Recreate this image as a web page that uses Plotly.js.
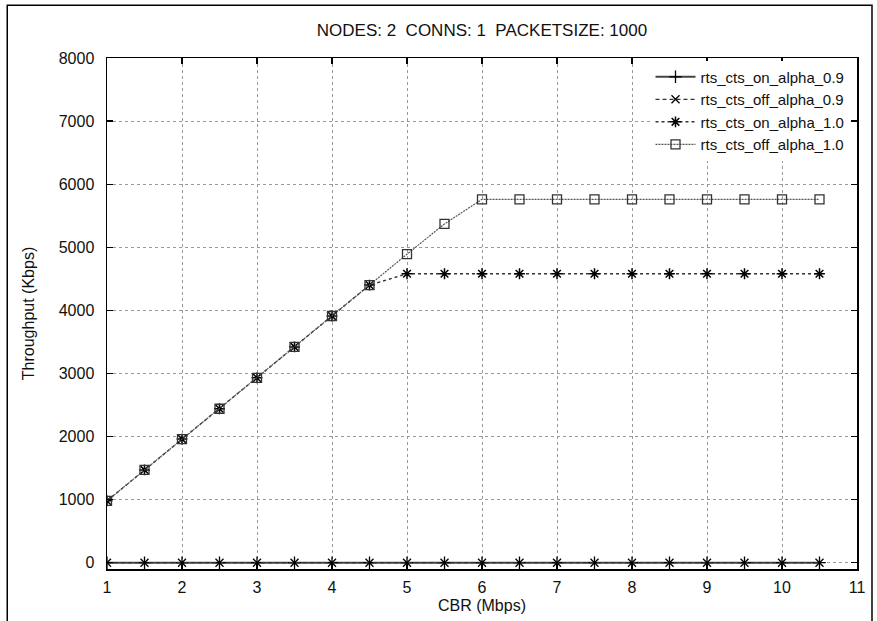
<!DOCTYPE html>
<html>
<head>
<meta charset="utf-8">
<script src="https://cdn.plot.ly/plotly-3.0.1.min.js"></script>
<style>html,body{margin:0;padding:0;background:#fff;}#chart{width:877px;height:621px;}</style>
</head>
<body>
<div id="chart"></div>
<script>
const cbr = [1, 1.5, 2, 2.5, 3, 3.5, 4, 4.5, 5, 5.5, 6, 6.5, 7, 7.5, 8, 8.5, 9, 9.5, 10, 10.5];
const rtsOnAlpha09  = [0,0,0,0,0,0,0,0,0,0,0,0,0,0,0,0,0,0,0,0];
const rtsOffAlpha09 = [0,0,0,0,0,0,0,0,0,0,0,0,0,0,0,0,0,0,0,0];
const rtsOnAlpha10  = [980,1470,1960,2440,2930,3420,3910,4400,4580,4580,4580,4580,4580,4580,4580,4580,4580,4580,4580,4580];
const rtsOffAlpha10 = [980,1470,1960,2440,2930,3420,3910,4400,4890,5370,5760,5760,5760,5760,5760,5760,5760,5760,5760,5760];
const seriesNames = ['rts_cts_on_alpha_0.9','rts_cts_off_alpha_0.9','rts_cts_on_alpha_1.0','rts_cts_off_alpha_1.0'];
const xTicks = [1,2,3,4,5,6,7,8,9,10,11];
const yTicks = [0,1000,2000,3000,4000,5000,6000,7000,8000];

const font = {family: 'Liberation Sans, Arial, sans-serif', size: 16, color: '#111'};
const traces = [
  {x: cbr, y: rtsOnAlpha09, name: seriesNames[0], mode: 'lines+markers',
   line: {color: '#444', width: 2, dash: 'solid'},
   marker: {symbol: 'cross-thin-open', size: 9, color: '#000', line: {width: 1.3, color: '#000'}}},
  {x: cbr, y: rtsOffAlpha09, name: seriesNames[1], mode: 'lines+markers',
   line: {color: '#333', width: 1.2, dash: '4px,3px'},
   marker: {symbol: 'x-thin-open', size: 8, color: '#000', line: {width: 1.3, color: '#000'}}},
  {x: cbr, y: rtsOnAlpha10, name: seriesNames[2], mode: 'lines+markers',
   line: {color: '#333', width: 1.4, dash: '3px,3px'},
   marker: {symbol: 'asterisk-open', size: 9, color: '#000', line: {width: 1.5, color: '#000'}}},
  {x: cbr, y: rtsOffAlpha10, name: seriesNames[3], mode: 'lines+markers',
   line: {color: '#555', width: 1.2, dash: '2px,1px'},
   marker: {symbol: 'square-open', size: 9, color: '#333', line: {width: 1.3, color: '#333'}}}
];

const layout = {
  width: 877, height: 621,
  margin: {l: 107, r: 20, t: 58, b: 52},
  paper_bgcolor: '#fff', plot_bgcolor: '#fff',
  font: font,
  showlegend: true,
  title: {text: 'NODES: 2  CONNS: 1  PACKETSIZE: 1000', x: 0.5, xref: 'paper', xanchor: 'center', y: 0.952, yanchor: 'middle',
          font: {family: font.family, size: 17, color: '#111'}},
  xaxis: {
    range: [1, 11], tickvals: xTicks, ticktext: xTicks.map(String),
    showgrid: true, gridcolor: '#999', griddash: 'dot', gridwidth: 1,
    zeroline: false, showline: true, linecolor: '#000', linewidth: 1.5, mirror: 'ticks',
    ticks: 'inside', ticklen: 6, tickcolor: '#000', tickwidth: 1.2,
    tickfont: font, ticklabelstandoff: 3,
    title: {text: 'CBR (Mbps)', font: font, standoff: 5}
  },
  yaxis: {
    range: [-100, 8000], tickvals: yTicks, ticktext: yTicks.map(String),
    showgrid: true, gridcolor: '#999', griddash: 'dot', gridwidth: 1,
    zeroline: false, showline: true, linecolor: '#000', linewidth: 1.5, mirror: 'ticks',
    ticks: 'inside', ticklen: 6, tickcolor: '#000', tickwidth: 1.2,
    tickfont: font, ticklabelstandoff: 8,
    title: {text: 'Throughput (Kbps)', font: font, standoff: 20}
  },
  legend: {
    x: 0.99, xanchor: 'right', y: 0.995, yanchor: 'top',
    bgcolor: 'rgba(255,255,255,1)', borderwidth: 0,
    font: {family: font.family, size: 15, color: '#111'}, tracegroupgap: 0, itemwidth: 40
  },
  shapes: [
    {type: 'rect', xref: 'paper', yref: 'paper', x0: -0.133, x1: 1.02, y0: -0.3, y1: 1.103,
     line: {color: '#000', width: 1.5}, fillcolor: 'rgba(0,0,0,0)', layer: 'below'}
  ]
};

Plotly.newPlot('chart', traces, layout, {displayModeBar: false, staticPlot: true});
</script>
</body>
</html>
